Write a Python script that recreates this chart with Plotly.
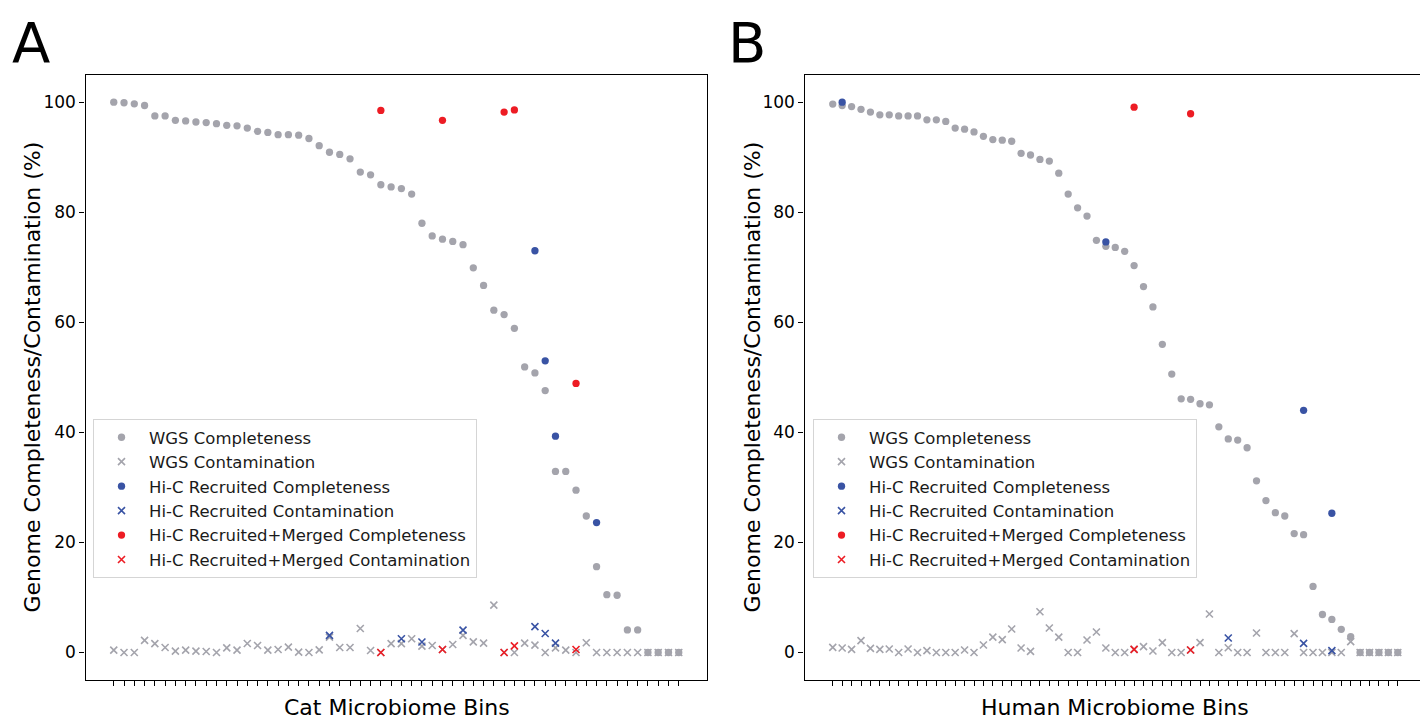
import plotly.graph_objects as go

# ---------------- data ----------------
cat_wgs_completeness = [100.0, 99.9, 99.7, 99.4, 97.5, 97.5, 96.7, 96.6, 96.4, 96.3,
                        96.1, 95.8, 95.7, 95.3, 94.7, 94.5, 94.1, 94.1, 94.0, 93.4,
                        92.1, 90.9, 90.5, 89.7, 87.3, 86.8, 85.0, 84.6, 84.3, 83.3,
                        78.0, 75.7, 75.1, 74.7, 74.1, 69.9, 66.7, 62.2, 61.4, 58.9,
                        51.9, 50.8, 47.6, 32.9, 32.9, 29.5, 24.8, 15.6, 10.5, 10.4,
                        4.1, 4.1, 0, 0, 0, 0]
cat_wgs_contamination = [0.42, 0, 0, 2.2, 1.6, 0.9, 0.24, 0.42, 0.24, 0.18,
                         0, 0.85, 0.42, 1.64, 1.27, 0.42, 0.55, 0.97, 0.06, 0,
                         0.48, 2.8, 0.9, 0.9, 4.36, 0.36, 0, 1.6, 1.6, 2.5,
                         1.15, 1.27, 0.55, 1.45, 3.1, 1.94, 1.7, 8.6, 0, 0,
                         1.7, 1.33, 0, 0.85, 0.42, 0, 1.76, 0, 0, 0,
                         0, 0, 0, 0, 0, 0]
cat_hic_comp_idx = [41, 42, 43, 47]
cat_hic_comp = [73.0, 53.0, 39.3, 23.6]
cat_hic_cont_idx = [21, 28, 30, 34, 41, 42, 43]
cat_hic_cont = [3.1, 2.5, 1.9, 4.06, 4.7, 3.45, 1.7]
cat_merged_comp_idx = [26, 32, 38, 39, 45]
cat_merged_comp = [98.5, 96.7, 98.2, 98.6, 48.9]
cat_merged_cont_idx = [26, 32, 38, 39, 45]
cat_merged_cont = [0, 0.55, 0, 1.2, 0.55]

human_wgs_completeness = [99.65, 99.4, 99.2, 98.7, 98.2, 97.7, 97.7, 97.5, 97.5, 97.5,
                          96.8, 96.8, 96.5, 95.3, 95.1, 94.6, 93.8, 93.2, 93.1, 92.9,
                          90.7, 90.4, 89.6, 89.3, 87.1, 83.3, 80.8, 79.3, 74.9, 73.8,
                          73.6, 72.9, 70.3, 66.5, 62.8, 56.0, 50.6, 46.1, 46.0, 45.2,
                          45.0, 41.0, 38.8, 38.6, 37.2, 31.2, 27.6, 25.4, 24.8, 21.6,
                          21.4, 12.0, 6.9, 6.0, 4.2, 2.9, 0, 0, 0, 0, 0]
human_wgs_contamination = [0.93, 0.81, 0.57, 2.15, 0.75, 0.57, 0.63, 0, 0.63, 0,
                           0.33, 0, 0, 0, 0.45, 0, 1.36, 2.8, 2.33, 4.27,
                           0.81, 0.2, 7.4, 4.45, 2.8, 0, 0, 2.27, 3.72, 0.81,
                           0, 0, 0.57, 1.06, 0.27, 1.78, 0, 0, 0.45, 1.78,
                           7.0, 0, 0.87, 0, 0, 3.54, 0, 0, 0, 3.42,
                           0, 0, 0, 0, 0, 1.97, 0, 0, 0, 0, 0]
human_hic_comp_idx = [1, 29, 50, 53]
human_hic_comp = [100.0, 74.6, 44.0, 25.3]
human_hic_cont_idx = [42, 50, 53]
human_hic_cont = [2.63, 1.66, 0.33]
human_merged_comp_idx = [32, 38]
human_merged_comp = [99.1, 97.9]
human_merged_cont_idx = [32, 38]
human_merged_cont = [0.57, 0.45]

y_ticks = [0, 20, 40, 60, 80, 100]
series_names = ["WGS Completeness", "WGS Contamination",
                "Hi-C Recruited Completeness", "Hi-C Recruited Contamination",
                "Hi-C Recruited+Merged Completeness", "Hi-C Recruited+Merged Contamination"]

# ---------------- style ----------------
GRAY = "#a4a4ac"
BLUE = "#3953a4"
RED = "#ed1c24"
FONT = "DejaVu Sans"
W, H = 1420, 721

fig = go.Figure()


def circ(x, y, color, name, xa, ya, leg):
    fig.add_trace(go.Scatter(x=x, y=y, mode="markers", name=name, xaxis=xa, yaxis=ya,
                             legend=leg,
                             marker=dict(symbol="circle", size=7.3, color=color,
                                         line=dict(width=0))))


def cross(x, y, color, name, xa, ya, leg):
    fig.add_trace(go.Scatter(x=x, y=y, mode="markers", name=name, xaxis=xa, yaxis=ya,
                             legend=leg,
                             marker=dict(symbol="x-thin", size=7, color=color,
                                         line=dict(width=1.6, color=color))))


panels = [
    ("x", "y", "legend", cat_wgs_completeness, cat_wgs_contamination,
     cat_hic_comp_idx, cat_hic_comp, cat_hic_cont_idx, cat_hic_cont,
     cat_merged_comp_idx, cat_merged_comp, cat_merged_cont_idx, cat_merged_cont),
    ("x2", "y2", "legend2", human_wgs_completeness, human_wgs_contamination,
     human_hic_comp_idx, human_hic_comp, human_hic_cont_idx, human_hic_cont,
     human_merged_comp_idx, human_merged_comp, human_merged_cont_idx, human_merged_cont),
]

for (xa, ya, leg, wc, wct, hci, hc, hcti, hct, mci, mc, mcti, mct) in panels:
    idx = list(range(len(wc)))
    circ(idx, wc, GRAY, series_names[0], xa, ya, leg)
    cross(idx, wct, GRAY, series_names[1], xa, ya, leg)
    circ(hci, hc, BLUE, series_names[2], xa, ya, leg)
    cross(hcti, hct, BLUE, series_names[3], xa, ya, leg)
    circ(mci, mc, RED, series_names[4], xa, ya, leg)
    cross(mcti, mct, RED, series_names[5], xa, ya, leg)

ydom = [1 - 680 / H, 1 - 75 / H]

common_x = dict(showgrid=False, zeroline=False, showline=True, linecolor="black",
                linewidth=1.3, ticks="outside", ticklen=5, tickwidth=1,
                tickcolor="black", showticklabels=False, automargin=False)
common_y = dict(showgrid=False, zeroline=False, showline=True, linecolor="black",
                linewidth=1.3, ticks="outside", ticklen=5, tickwidth=1.2,
                tickcolor="black", tickvals=y_ticks, range=[-5.0, 104.94],
                tickfont=dict(family=FONT, size=17, color="black"),
                automargin=False)

legend_common = dict(xanchor="left", yanchor="top",
                     bgcolor="rgba(255,255,255,0.85)", bordercolor="#d5d5d5",
                     borderwidth=1,
                     font=dict(family=FONT, size=16.5, color="#1a1a1a"),
                     itemwidth=45, tracegroupgap=0)

fig.update_layout(
    width=W, height=H,
    margin=dict(l=0, r=0, t=0, b=0),
    paper_bgcolor="white", plot_bgcolor="white",
    font=dict(family=FONT, color="black"),
    xaxis=dict(domain=[85.5 / W, 707 / W], range=[-2.75, 57.75], mirror=True,
               tickvals=list(range(len(cat_wgs_completeness))), anchor="y", **common_x),
    yaxis=dict(domain=ydom, mirror=True, anchor="x", **common_y),
    xaxis2=dict(domain=[804.5 / W, 1.0], range=[-3.0, 62.36], mirror=True,
                tickvals=list(range(len(human_wgs_completeness))), anchor="y2", **common_x),
    yaxis2=dict(domain=ydom, mirror=False, anchor="x2", **common_y),
    legend=dict(x=93 / W, y=1 - 419 / H, **legend_common),
    legend2=dict(x=813 / W, y=1 - 419 / H, **legend_common),
    showlegend=True,
)

ann = []
# y titles
for xc in (32, 752):
    ann.append(dict(x=xc / W, y=1 - 377.5 / H, xref="paper", yref="paper",
                    text="Genome Completeness/Contamination (%)", textangle=-90,
                    showarrow=False, xanchor="center", yanchor="middle",
                    font=dict(family=FONT, size=22, color="black")))
# x titles
for xc, txt in ((396.5, "Cat Microbiome Bins"), (1115, "Human Microbiome Bins")):
    ann.append(dict(x=xc / W, y=0, xref="paper", yref="paper", text=txt,
                    showarrow=False, xanchor="center", yanchor="bottom",
                    borderpad=0, font=dict(family=FONT, size=22, color="black")))
# panel letters
ann.append(dict(x=31 / W, y=1 - 43 / H, xref="paper", yref="paper", text="A",
                showarrow=False, xanchor="center", yanchor="middle",
                font=dict(family=FONT, size=56, color="black")))
ann.append(dict(x=747 / W, y=1 - 43 / H, xref="paper", yref="paper", text="B",
                showarrow=False, xanchor="center", yanchor="middle",
                font=dict(family=FONT, size=56, color="black")))
fig.update_layout(annotations=ann)

fig.write_html("out.html")
